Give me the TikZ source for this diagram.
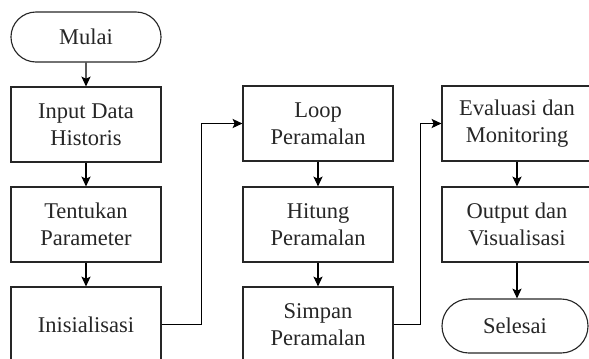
\documentclass[tikz,border=0pt]{standalone}
\usepackage{fontspec}
\setmainfont{Liberation Serif}
\usetikzlibrary{arrows.meta,shapes.misc}
\begin{document}
\begin{tikzpicture}[x = 0.025cm, y = -0.025cm,
    font = \fontsize{16}{19.5}\selectfont,
    proc/.style = {draw = black!85, line width = 0.8pt, minimum width = 3.75cm, minimum height = 1.875cm, align = center, inner sep = 0pt, text = black!85},
    term/.style = {draw = black!85, line width = 0.8pt, rounded rectangle, minimum width = 3.75cm, minimum height = 1.25cm, inner sep = 0pt, text = black!85},
    flow/.style = {draw = black, line width = 0.8pt, -{Stealth[length = 7pt, width = 6.5pt, inset = 1.5pt]}}]
      \clip (0, 0) rectangle (589, 358);
      \node [term] (mulai) at (86, 37) {Mulai};
      \node [proc] (input) at (86, 124.5) {Input Data\\Historis};
      \node [proc] (tentukan) at (86, 224.5) {Tentukan\\Parameter};
      \node [proc] (inisial) at (86, 324.5) {Inisialisasi};
      \node [proc] (loop) at (318, 123.5) {Loop\\Peramalan};
      \node [proc] (hitung) at (318, 224.5) {Hitung\\Peramalan};
      \node [proc] (simpan) at (318, 324.5) {Simpan\\Peramalan};
      \node [proc] (eval) at (517, 123.5) {Evaluasi dan\\Monitoring};
      \node [proc] (output) at (517, 224.5) {Output dan\\Visualisasi};
      \node [term, minimum width = 3.65cm, minimum height = 1.35cm] (selesai) at (515, 326) {Selesai};
      \draw [flow] (mulai) -- (input);
      \draw [flow] (input) -- (tentukan);
      \draw [flow] (tentukan) -- (inisial);
      \draw [flow] (inisial.east) -- ++(40, 0) |- (loop.west);
      \draw [flow] (loop) -- (hitung);
      \draw [flow] (hitung) -- (simpan);
      \draw [flow] (simpan.east) -- ++(27, 0) |- (eval.west);
      \draw [flow] (eval) -- (output);
      \draw [flow] (output) -- (output |- selesai.north);
    \end{tikzpicture}
\end{document}
